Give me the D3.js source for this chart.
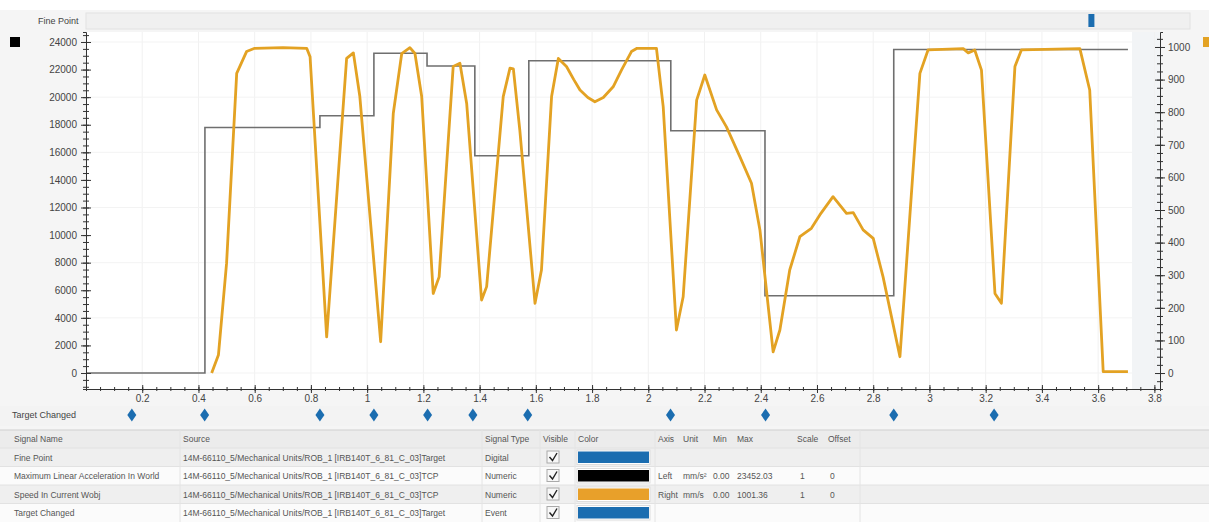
<!DOCTYPE html>
<html><head><meta charset="utf-8">
<script src="https://cdn.jsdelivr.net/npm/d3@7"></script>
<style>
html,body{margin:0;padding:0;background:#fff;}
svg{display:block;font-family:"Liberation Sans",Arial,sans-serif;}
</style></head>
<body><svg id="c" width="1209" height="522"></svg>
<script>
// ---- data ----
const accelT = [0, 0.423, 0.832, 1.024, 1.213, 1.383, 1.575, 2.080, 2.415, 2.873, 3.706];
const accelV = [0, 17800, 18650, 23180, 22260, 15750, 22640, 17570, 5600, 23452, 23452];
const speedT = [0.447,0.471,0.50,0.536,0.571,0.60,0.70,0.785,0.797,0.856,0.927,0.951,0.974,1.048,1.093,1.123,1.152,1.17,1.194,1.235,1.256,1.306,1.33,1.354,1.407,1.425,1.484,1.508,1.52,1.543,1.597,1.62,1.656,1.68,1.709,1.735,1.757,1.785,1.81,1.84,1.875,1.905,1.94,1.96,2.029,2.053,2.10,2.124,2.172,2.201,2.243,2.278,2.326,2.367,2.397,2.444,2.468,2.503,2.539,2.58,2.61,2.657,2.705,2.729,2.764,2.8,2.835,2.895,2.966,2.995,3.12,3.138,3.161,3.185,3.233,3.256,3.304,3.327,3.535,3.57,3.618,3.706];
const speedV = [0,55,337,919,986,996,998,996,970,111,965,982,848,96,797,980,998,980,848,244,295,940,950,827,224,265,848,935,933,745,214,316,848,965,940,900,868,845,832,845,878,930,986,996,996,817,132,234,837,914,807,755,663,582,439,65,132,316,418,444,485,541,490,492,439,413,295,50,919,991,995,982,991,929,244,214,940,991,995,868,4,4];
const eventT = [0.163, 0.422, 0.832, 1.024, 1.215, 1.376, 1.571, 2.079, 2.417, 2.873, 3.230];
const finePointT = [3.576];
const xTicks = [0.2,0.4,0.6,0.8,1,1.2,1.4,1.6,1.8,2,2.2,2.4,2.6,2.8,3,3.2,3.4,3.6,3.8];
const leftTicks = [0,2000,4000,6000,8000,10000,12000,14000,16000,18000,20000,22000,24000];
const rightTicks = [0,100,200,300,400,500,600,700,800,900,1000];
const tableHeaders = ["Signal Name","Source","Signal Type","Visible","Color","Axis","Unit","Min","Max","Scale","Offset"];
const signalNames = ["Fine Point","Maximum Linear Acceleration In World","Speed In Current Wobj","Target Changed"];
const signalSources = ["14M-66110_5/Mechanical Units/ROB_1 [IRB140T_6_81_C_03]Target","14M-66110_5/Mechanical Units/ROB_1 [IRB140T_6_81_C_03]TCP","14M-66110_5/Mechanical Units/ROB_1 [IRB140T_6_81_C_03]TCP","14M-66110_5/Mechanical Units/ROB_1 [IRB140T_6_81_C_03]Target"];
const signalTypes = ["Digital","Numeric","Numeric","Event"];
const signalColors = ["#1b6db0","#000000","#e8a02a","#1b6db0"];
const signalAxis = ["","Left","Right",""];
const signalUnit = ["","mm/s²","mm/s",""];
const signalMin = ["","0.00","0.00",""];
const signalMax = ["","23452.03","1001.36",""];
const signalScale = ["","1","1",""];
const signalOffset = ["","0","0",""];

// ---- layout ----
const svg = d3.select("#c");
const X0 = 86, X1 = 1160, YT = 32, YB = 389;
const x = d3.scaleLinear().domain([0, 3.82]).range([X0, X1]);
const yL = d3.scaleLinear().domain([-1160, 24725]).range([YB, YT]);
const yR = d3.scaleLinear().domain([-49, 1046]).range([YB, YT]);

// backgrounds
svg.append("rect").attr("x",0).attr("y",0).attr("width",1209).attr("height",522).attr("fill","#fff");
svg.append("rect").attr("x",0).attr("y",10).attr("width",1209).attr("height",420).attr("fill","#f5f5f5");
svg.append("rect").attr("x",X0).attr("y",YT).attr("width",1132-X0).attr("height",YB-YT).attr("fill","#ffffff");
svg.append("rect").attr("x",1132).attr("y",YT).attr("width",X1-1132).attr("height",YB-YT).attr("fill","#f2f4f6");

// fine point strip
svg.append("rect").attr("x",X0).attr("y",13).attr("width",X1-X0+30).attr("height",16).attr("fill","#f0f0f0").attr("stroke","#e2e2e2");
svg.append("text").attr("x",38).attr("y",24).attr("font-size",9).attr("fill","#444").text("Fine Point");
svg.selectAll(".fp").data(finePointT).join("rect").attr("x",d=>x(d)-3).attr("y",14).attr("width",6).attr("height",13).attr("fill","#1b6db0");

// grid
const g = svg.append("g");
g.selectAll(".vg").data(xTicks).join("line").attr("x1",d=>x(d)).attr("x2",d=>x(d)).attr("y1",YT).attr("y2",YB).attr("stroke","#f1f1f1");
g.selectAll(".hg").data(leftTicks.filter((d,i)=>i%2==0)).join("line").attr("x1",X0).attr("x2",1132).attr("y1",d=>yL(d)).attr("y2",d=>yL(d)).attr("stroke","#f3f3f3");

// accel step line
const accel = accelT.map((t,i)=>[t,accelV[i]]);
svg.append("path").datum(accel)
  .attr("d", d3.line().x(d=>x(d[0])).y(d=>yL(d[1])).curve(d3.curveStepAfter))
  .attr("fill","none").attr("stroke","#6f6f6f").attr("stroke-width",1.6);

// speed line
const speed = speedT.map((t,i)=>[t,speedV[i]]);
svg.append("path").datum(speed)
  .attr("d", d3.line().x(d=>x(d[0])).y(d=>yR(d[1])))
  .attr("fill","none").attr("stroke","#e3a223").attr("stroke-width",2.8).attr("stroke-linejoin","round");

// axes
const axisCol = "#333";
function styleAxis(sel){ sel.selectAll("path,line").attr("stroke",axisCol); sel.selectAll("text").attr("fill","#444").attr("font-size",10).attr("font-family","Liberation Sans, Arial, sans-serif"); }
const minorL = d3.range(-1000, 24725, 500);
svg.append("g").attr("transform",`translate(${X0},0)`).call(d3.axisLeft(yL).tickValues(minorL).tickSize(3).tickFormat("")).call(styleAxis).selectAll("line").attr("x2",3).attr("x1",-3);
svg.append("g").attr("transform",`translate(${X0},0)`).call(d3.axisLeft(yL).tickValues(leftTicks).tickSize(5).tickPadding(4).tickFormat(d3.format("d"))).call(styleAxis).call(s=>s.select(".domain").remove()).selectAll("line").attr("x1",5);
const minorR = d3.range(-25, 1046, 25);
svg.append("g").attr("transform",`translate(${X1},0)`).call(d3.axisRight(yR).tickValues(minorR).tickSize(3).tickFormat("")).call(styleAxis).selectAll("line").attr("x1",-3);
svg.append("g").attr("transform",`translate(${X1},0)`).call(d3.axisRight(yR).tickValues(rightTicks).tickSize(5).tickPadding(3).tickFormat(d3.format("d"))).call(styleAxis).call(s=>s.select(".domain").remove()).selectAll("line").attr("x1",-5);
const minorX = d3.range(0.05, 3.82, 0.05);
svg.append("g").attr("transform",`translate(0,${YB})`).call(d3.axisBottom(x).tickValues(minorX).tickSize(2).tickFormat("")).call(styleAxis).selectAll("line").attr("y1",-2);
svg.append("g").attr("transform",`translate(0,${YB})`).call(d3.axisBottom(x).tickValues(xTicks).tickSize(4).tickPadding(2).tickFormat(d=>d3.format("")(d))).call(styleAxis).call(s=>s.select(".domain").remove()).selectAll("line").attr("y1",-4);

// legend squares
svg.append("rect").attr("x",10).attr("y",37).attr("width",10).attr("height",10).attr("fill","#000");
svg.append("rect").attr("x",1203).attr("y",37).attr("width",7).attr("height",10).attr("fill","#e3a223");

// target changed strip
svg.append("rect").attr("x",0).attr("y",406).attr("width",1209).attr("height",20).attr("fill","#f3f3f3");
svg.append("text").attr("x",12).attr("y",418).attr("font-size",9).attr("fill","#444").text("Target Changed");
svg.selectAll(".ev").data(eventT).join("path")
  .attr("d",d=>{const cx=x(d),cy=415;return `M${cx},${cy-6.5}L${cx+4.5},${cy}L${cx},${cy+6.5}L${cx-4.5},${cy}Z`;})
  .attr("fill","#1b6db0");

// table
const tY = 430, hH = 18, rH = 18.5;
svg.append("rect").attr("x",0).attr("y",tY).attr("width",1209).attr("height",522-tY).attr("fill","#fafafa");
svg.append("rect").attr("x",0).attr("y",tY).attr("width",1209).attr("height",hH).attr("fill","#ececec");
svg.append("line").attr("x1",0).attr("x2",1209).attr("y1",tY).attr("y2",tY).attr("stroke","#cfcfcf");
const colX = [14,183,485,543,578,658,683,713,737,797,828];
svg.selectAll(".hd").data(tableHeaders).join("text").attr("x",(d,i)=>colX[i]).attr("y",tY+12).attr("font-size",8.5).attr("fill","#555").text(d=>d);
signalNames.forEach((n,i)=>{
  const ry = tY + hH + i*rH;
  svg.append("rect").attr("x",0).attr("y",ry).attr("width",1209).attr("height",rH).attr("fill", i%2==0 ? "#efefef" : "#fbfbfb");
  svg.append("line").attr("x1",0).attr("x2",1209).attr("y1",ry).attr("y2",ry).attr("stroke","#e2e2e2");
  const ty = ry + 12.5;
  const cells = [n, signalSources[i], signalTypes[i], null, null, signalAxis[i], signalUnit[i], signalMin[i], signalMax[i], signalScale[i], signalOffset[i]];
  cells.forEach((c,j)=>{ if(c) svg.append("text").attr("x",colX[j] + (j==10?2:(j==9?3:0))).attr("y",ty).attr("font-size",8.5).attr("fill","#555").text(c); });
  // checkbox
  svg.append("rect").attr("x",547).attr("y",ry+3).attr("width",12).attr("height",12).attr("fill","#f7f7f7").attr("stroke","#aaa");
  svg.append("path").attr("d",`M549.5,${ry+9}L552.5,${ry+12.5}L557,${ry+5}`).attr("fill","none").attr("stroke","#222").attr("stroke-width",1.4);
  // color swatch
  svg.append("rect").attr("x",577).attr("y",ry+2).attr("width",73).attr("height",rH-4).attr("fill","#fff").attr("stroke","#ddd");
  svg.append("rect").attr("x",578).attr("y",ry+3.5).attr("width",71).attr("height",rH-7).attr("fill",signalColors[i]);
});
// column separators
[180,482,540,575,655,860].forEach(cx=>svg.append("line").attr("x1",cx).attr("x2",cx).attr("y1",tY).attr("y2",522).attr("stroke","#e4e4e4"));
</script></body></html>
